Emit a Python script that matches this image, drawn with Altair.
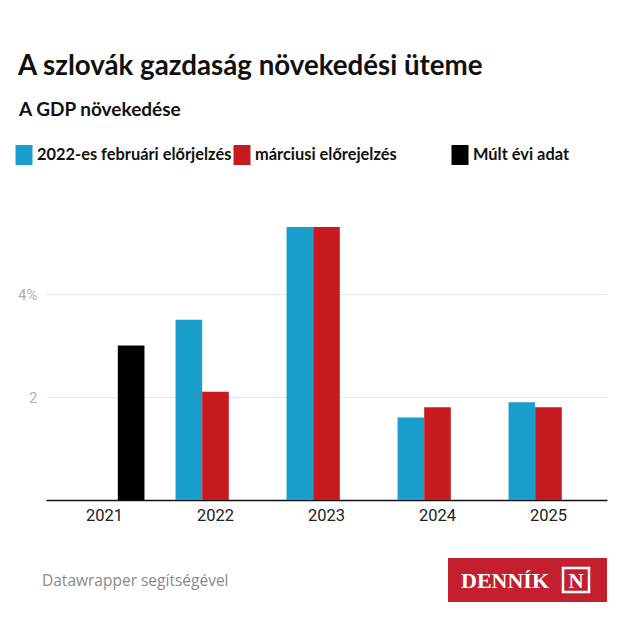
import altair as alt
import pandas as pd

years = ["2021", "2022", "2023", "2024", "2025"]
series_names = ["2022-es februári előrjelzés", "márciusi előrejelzés", "Múlt évi adat"]
series_colors = ["#1a9fcc", "#c71b1f", "#000000"]
feb_forecast = [None, 3.5, 5.3, 1.6, 1.9]
march_forecast = [None, 2.1, 5.3, 1.8, 1.8]
past_data = [3.0, None, None, None, None]

title_text = "A szlovák gazdaság növekedési üteme"
subtitle_text = "A GDP növekedése"
footer_text = "Datawrapper segítségével"
logo_text = "DENNÍK"

rows = []
for vals, name in zip([feb_forecast, march_forecast, past_data], series_names):
    for y, v in zip(years, vals):
        if v is not None:
            rows.append({"year": y, "series": name, "value": v})
df = pd.DataFrame(rows)

W, H = 561, 309

bars = alt.Chart(df).mark_bar().encode(
    x=alt.X("year:N", sort=years, title=None,
            scale=alt.Scale(paddingInner=0.28, paddingOuter=0.167),
            axis=alt.Axis(labelAngle=0, labelFont="Roboto", labelFontSize=16.5,
                          labelColor="#222222", labelPadding=7, ticks=False,
                          domainColor="#111111", domainWidth=1.5)),
    xOffset=alt.XOffset("series:N", sort=series_names,
                        scale=alt.Scale(domain=series_names, paddingInner=0, paddingOuter=0)),
    y=alt.Y("value:Q", title=None,
            scale=alt.Scale(domain=[0, 6], nice=False),
            axis=alt.Axis(values=[2, 4], labelExpr="datum.value == 4 ? '4%' : datum.label",
                          labelFont="Roboto", labelFontSize=15, labelColor="#b0b0b0",
                          labelPadding=9, ticks=False, domain=False,
                          gridColor="#e6e6e6", gridWidth=1)),
    color=alt.Color("series:N",
                    scale=alt.Scale(domain=series_names, range=series_colors),
                    legend=alt.Legend(title=None, orient="none", legendX=-32, legendY=-46,
                                      direction="horizontal", columns=3, gridAlign="all",
                                      columnPadding=0,
                                      symbolType="M-0.85,-1H0.85V1H-0.85Z",
                                      symbolSize=400, symbolStrokeWidth=0, symbolOpacity=1,
                                      labelFont="Lato", labelFontSize=16.4, labelFontWeight="bold",
                                      labelColor="#111111", labelOffset=3, labelLimit=400)),
)

one = pd.DataFrame({"t": [title_text], "s": [subtitle_text], "f": [footer_text], "l": [logo_text]})

title = alt.Chart(one).mark_text(align="left", baseline="alphabetic", font="Lato",
                                 fontSize=27.7, fontWeight="bold", color="#111111").encode(
    text="t:N", x=alt.value(-28), y=alt.value(-116))
subtitle = alt.Chart(one).mark_text(align="left", baseline="alphabetic", font="Lato",
                                    fontSize=19, fontWeight="bold", color="#111111").encode(
    text="s:N", x=alt.value(-27), y=alt.value(-75))
footer = alt.Chart(one).mark_text(align="left", baseline="alphabetic", font="Open Sans",
                                  fontSize=15.5, color="#8a8a8a").encode(
    text="f:N", x=alt.value(-4), y=alt.value(395))
logo_bg = alt.Chart(one).mark_rect(color="#c41f2e").encode(
    x=alt.value(402), x2=alt.value(561), y=alt.value(367), y2=alt.value(411))
logo_txt = alt.Chart(one).mark_text(align="left", baseline="alphabetic", font="Liberation Serif",
                                    fontSize=22, fontWeight="bold", color="white").encode(
    text="l:N", x=alt.value(415), y=alt.value(397))
logo_box = alt.Chart(one).mark_rect(fill="#c41f2e", stroke="white", strokeWidth=2.5).encode(
    x=alt.value(517), x2=alt.value(543), y=alt.value(377), y2=alt.value(401))
logo_n = alt.Chart(one).mark_text(align="center", baseline="alphabetic", font="Liberation Serif",
                                  fontSize=21, fontWeight="bold", color="white").encode(
    text=alt.value("N"), x=alt.value(530), y=alt.value(397))

chart = alt.layer(bars, title, subtitle, footer, logo_bg, logo_txt, logo_box, logo_n).properties(
    width=W, height=H,
    background="white",
    padding={"left": 38, "top": 183, "right": 7, "bottom": 114},
    autosize=alt.AutoSizeParams(type="none"),
).configure_view(strokeWidth=0, stroke="transparent")

chart.save("out.html", embed_options={"renderer": "svg", "actions": False})
